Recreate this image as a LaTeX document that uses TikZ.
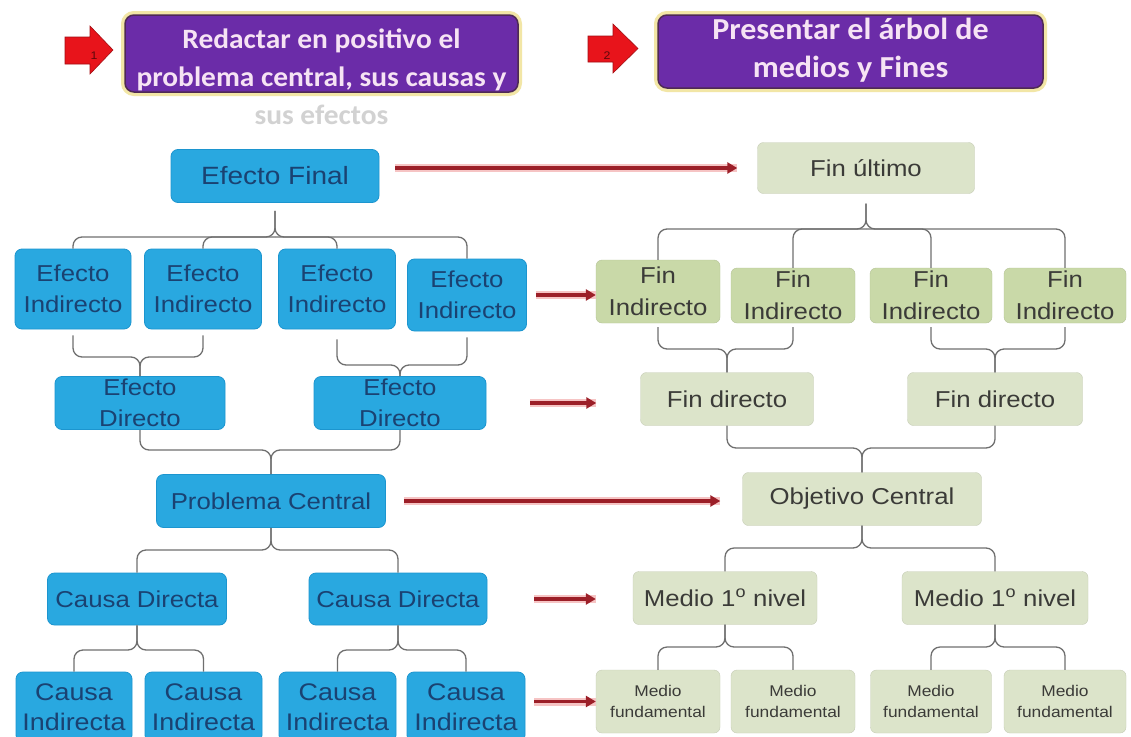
\documentclass[tikz,border=0pt]{standalone}
\usepackage{fontspec}
\setmainfont{Liberation Sans}
\newfontfamily\boxfont[FakeStretch=1.12]{Liberation Sans}
\newfontfamily\headfont[FakeStretch=1.05]{Carlito}
\usetikzlibrary{arrows.meta,calc}

\definecolor{blueFill}{HTML}{29A8E0}
\definecolor{blueLine}{HTML}{1C95CF}
\definecolor{blueText}{HTML}{1A4272}
\definecolor{greenFill}{HTML}{DCE4CA}
\definecolor{greenDark}{HTML}{C9D9A8}
\definecolor{greenText}{HTML}{3B3B38}
\definecolor{titlePurple}{HTML}{6B2CA8}
\definecolor{titleEdge}{HTML}{4E2A55}
\definecolor{titleGlow}{HTML}{F2E6A6}
\definecolor{titleText}{HTML}{F6E3F4}
\definecolor{fadeText}{HTML}{D2D2D2}
\definecolor{linkRed}{HTML}{9C1F28}
\definecolor{linkGlow}{HTML}{F6C4C4}
\definecolor{blockRed}{HTML}{E8141B}
\definecolor{braceGray}{HTML}{6F6F6F}

\tikzset{
  titlebox/.style={fill=titlePurple, draw=titleEdge, line width=1.5pt,
    rounded corners=9pt, inner sep=0pt,
    preaction={draw=titleGlow, line width=8pt}},
  titletext/.style={text=titleText, align=center, inner sep=0pt,
    font=\headfont\bfseries\fontsize{28}{38}\selectfont},
  blockarrow/.style={fill=blockRed, draw=blockRed!70!black, line width=0.6pt,
    line join=miter},
  arrownum/.style={text=blockRed!40!black, inner sep=0pt,
    font=\boxfont\fontsize{11}{11}\selectfont},
  probbox/.style={fill=blueFill, draw=blueLine, line width=0.8pt,
    rounded corners=7pt, text=blueText, align=center, inner sep=0pt,
    font=\boxfont\fontsize{23}{31}\selectfont},
  goalbox/.style={fill=greenFill, draw=greenFill!90!black, line width=0.4pt,
    rounded corners=6pt, text=greenText, align=center, inner sep=0pt,
    font=\boxfont\fontsize{23}{32}\selectfont},
  goaldark/.style={goalbox, fill=greenDark, draw=greenDark!90!black},
  goalsmall/.style={goalbox, font=\boxfont\fontsize{15.5}{21}\selectfont},
  causebox/.style={probbox, minimum height=70pt,
    font=\boxfont\fontsize{24}{30}\selectfont},
  brace/.style={draw=braceGray, line width=1.3pt, rounded corners=9pt},
  link/.style={draw=linkRed, line width=3.2pt,
    -{Triangle[length=10pt,width=11pt]},
    preaction={draw=linkGlow, line width=8pt, -}},
}

\begin{document}
\begin{tikzpicture}[x=1pt, y=-1pt]
\useasboundingbox (0,0) rectangle (1131,736);
\fill[white] (0,0) rectangle (1131,736);

% ---- step headers: block arrows and purple banners
\draw[blockarrow] (65,37) -- (90,37) -- (90,26) -- (113,50) -- (90,74) -- (90,64) -- (65,64) -- cycle;
\node[arrownum] (n1) at (94,56) {1};
\node[titlebox, minimum width=393pt, minimum height=77pt] (t1) at (321.5,53.5) {};
\node[titletext] (t1txt) at (321.5,77)
  {Redactar en positivo el\\problema central, sus causas y\\{\color{fadeText}sus efectos}};

\draw[blockarrow] (588,36) -- (613,36) -- (613,24) -- (638,48.5) -- (613,73) -- (613,62) -- (588,62) -- cycle;
\node[arrownum] (n2) at (607,56) {2};
\node[titlebox, minimum width=385pt, minimum height=73pt] (t2) at (850.5,51.5) {};
\node[titletext, font=\headfont\bfseries\fontsize{30.5}{38}\selectfont] (t2txt) at (850.5,50) {Presentar el árbol de\\medios y Fines};

% ---- problem tree (left)
\node[probbox, minimum width=208pt, minimum height=53pt,
      font=\boxfont\fontsize{25}{30}\selectfont] (ef) at (275,176) {Efecto Final};

\node[probbox, minimum width=116pt, minimum height=80pt] (ei1) at (73,289) {Efecto\\Indirecto};
\node[probbox, minimum width=117pt, minimum height=80pt] (ei2) at (203,289) {Efecto\\Indirecto};
\node[probbox, minimum width=117pt, minimum height=80pt] (ei3) at (337,289) {Efecto\\Indirecto};
\node[probbox, minimum width=119pt, minimum height=72pt] (ei4) at (467,295) {Efecto\\Indirecto};

\node[probbox, minimum width=170pt, minimum height=53pt] (ed1) at (140,403) {Efecto\\Directo};
\node[probbox, minimum width=172pt, minimum height=53pt] (ed2) at (400,403) {Efecto\\Directo};

\node[probbox, minimum width=229pt, minimum height=53pt] (pc) at (271,501) {Problema Central};

\node[probbox, minimum width=179pt, minimum height=52pt] (cd1) at (137,599) {Causa Directa};
\node[probbox, minimum width=178pt, minimum height=52pt] (cd2) at (398,599) {Causa Directa};

\node[causebox, minimum width=116pt] (ci1) at (74,707) {Causa\\Indirecta};
\node[causebox, minimum width=117pt] (ci2) at (203.5,707) {Causa\\Indirecta};
\node[causebox, minimum width=117pt] (ci3) at (337.5,707) {Causa\\Indirecta};
\node[causebox, minimum width=118pt] (ci4) at (466,707) {Causa\\Indirecta};

% ---- objective tree (right)
\node[goalbox, minimum width=217pt, minimum height=51pt] (fu) at (866,168) {Fin último};

\node[goaldark, minimum width=124pt, minimum height=63pt] (fi1) at (658,291.5) {Fin\\Indirecto};
\node[goaldark, minimum width=124pt, minimum height=55pt] (fi2) at (793,295.5) {Fin\\Indirecto};
\node[goaldark, minimum width=122pt, minimum height=55pt] (fi3) at (931,295.5) {Fin\\Indirecto};
\node[goaldark, minimum width=122pt, minimum height=55pt] (fi4) at (1065,295.5) {Fin\\Indirecto};

\node[goalbox, minimum width=173pt, minimum height=53pt] (fd1) at (727,399) {Fin directo};
\node[goalbox, minimum width=175pt, minimum height=53pt] (fd2) at (995,399) {Fin directo};

\node[goalbox, minimum width=239pt, minimum height=53pt] (oc) at (862,499) {Objetivo Central};

\node[goalbox, minimum width=184pt, minimum height=53pt] (m1) at (725,598) {Medio 1\textsuperscript{o} nivel};
\node[goalbox, minimum width=186pt, minimum height=53pt] (m2) at (995,598) {Medio 1\textsuperscript{o} nivel};

\node[goalsmall, minimum width=124pt, minimum height=63pt] (mf1) at (658,701.5) {Medio\\fundamental};
\node[goalsmall, minimum width=124pt, minimum height=63pt] (mf2) at (793,701.5) {Medio\\fundamental};
\node[goalsmall, minimum width=121pt, minimum height=63pt] (mf3) at (931,701.5) {Medio\\fundamental};
\node[goalsmall, minimum width=122pt, minimum height=63pt] (mf4) at (1065,701.5) {Medio\\fundamental};

% ---- brace levels
\coordinate (bEF) at (0,237);
\coordinate (bEDa) at (0,357);
\coordinate (bEDb) at (0,365);
\coordinate (bPC) at (0,450);
\coordinate (bCD) at (0,550);
\coordinate (bCI) at (0,650);
\coordinate (bFU) at (0,229);
\coordinate (bFD) at (0,349);
\coordinate (bOC) at (0,448);
\coordinate (bM) at (0,548);
\coordinate (bMF) at (0,647);

% ---- braces, problem tree
\draw[brace] ($(ef.south)+(0,8)$) -- (ef.south |- bEF) -- (ei1.north |- bEF) -- (ei1.north);
\draw[brace] ($(ef.south)+(0,8)$) -- (ef.south |- bEF) -- (ei4.north |- bEF) -- (ei4.north);
\draw[brace] (ei2.north) -- (ei2.north |- bEF) -- (ef.south |- bEF);
\draw[brace] (ei3.north) -- (ei3.north |- bEF) -- (ef.south |- bEF);

\draw[brace] ($(ei1.south)+(0,6)$) -- (ei1.south |- bEDa) -- (ed1.north |- bEDa) -- (ed1.north);
\draw[brace] ($(ei2.south)+(0,6)$) -- (ei2.south |- bEDa) -- (ed1.north |- bEDa) -- (ed1.north);
\draw[brace] ($(ei3.south)+(0,10)$) -- (ei3.south |- bEDb) -- (ed2.north |- bEDb) -- (ed2.north);
\draw[brace] ($(ei4.south)+(0,6)$) -- (ei4.south |- bEDb) -- (ed2.north |- bEDb) -- (ed2.north);

\draw[brace] (ed1.south) -- (ed1.south |- bPC) -- (pc.north |- bPC) -- (pc.north);
\draw[brace] (ed2.south) -- (ed2.south |- bPC) -- (pc.north |- bPC) -- (pc.north);

\draw[brace] (pc.south) -- (pc.south |- bCD) -- (cd1.north |- bCD) -- (cd1.north);
\draw[brace] (pc.south) -- (pc.south |- bCD) -- (cd2.north |- bCD) -- (cd2.north);

\draw[brace] (cd1.south) -- (cd1.south |- bCI) -- (ci1.north |- bCI) -- (ci1.north);
\draw[brace] (cd1.south) -- (cd1.south |- bCI) -- (ci2.north |- bCI) -- (ci2.north);
\draw[brace] (cd2.south) -- (cd2.south |- bCI) -- (ci3.north |- bCI) -- (ci3.north);
\draw[brace] (cd2.south) -- (cd2.south |- bCI) -- (ci4.north |- bCI) -- (ci4.north);

% ---- braces, objective tree
\draw[brace] ($(fu.south)+(0,10)$) -- (fu.south |- bFU) -- (fi1.north |- bFU) -- (fi1.north);
\draw[brace] ($(fu.south)+(0,10)$) -- (fu.south |- bFU) -- (fi4.north |- bFU) -- (fi4.north);
\draw[brace] (fi2.north) -- (fi2.north |- bFU) -- (fu.south |- bFU);
\draw[brace] (fi3.north) -- (fi3.north |- bFU) -- (fu.south |- bFU);

\draw[brace] ($(fi1.south)+(0,4)$) -- (fi1.south |- bFD) -- (fd1.north |- bFD) -- (fd1.north);
\draw[brace] ($(fi2.south)+(0,4)$) -- (fi2.south |- bFD) -- (fd1.north |- bFD) -- (fd1.north);
\draw[brace] ($(fi3.south)+(0,4)$) -- (fi3.south |- bFD) -- (fd2.north |- bFD) -- (fd2.north);
\draw[brace] ($(fi4.south)+(0,4)$) -- (fi4.south |- bFD) -- (fd2.north |- bFD) -- (fd2.north);

\draw[brace] (fd1.south) -- (fd1.south |- bOC) -- (oc.north |- bOC) -- (oc.north);
\draw[brace] (fd2.south) -- (fd2.south |- bOC) -- (oc.north |- bOC) -- (oc.north);

\draw[brace] (oc.south) -- (oc.south |- bM) -- (m1.north |- bM) -- (m1.north);
\draw[brace] (oc.south) -- (oc.south |- bM) -- (m2.north |- bM) -- (m2.north);

\draw[brace] (m1.south) -- (m1.south |- bMF) -- (mf1.north |- bMF) -- (mf1.north);
\draw[brace] (m1.south) -- (m1.south |- bMF) -- (mf2.north |- bMF) -- (mf2.north);
\draw[brace] (m2.south) -- (m2.south |- bMF) -- (mf3.north |- bMF) -- (mf3.north);
\draw[brace] (m2.south) -- (m2.south |- bMF) -- (mf4.north |- bMF) -- (mf4.north);

% ---- links between the two trees
\draw[link, shorten <=16pt, shorten >=20pt] (ef.east |- fu.west) -- (fu.west);
\draw[link, shorten <=9pt] (ei4.east) -- (ei4.east -| fi1.west);
\draw[link, shorten <=44pt, shorten >=44pt] (ed2.east) -- (ed2.east -| fd1.west);
\draw[link, shorten <=18pt, shorten >=22pt] (pc.east) -- (pc.east -| oc.west);
\draw[link, shorten <=47pt, shorten >=37pt] (cd2.east) -- (cd2.east -| m1.west);
\draw[link, shorten <=9pt] (ci4.east |- mf1.west) -- (mf1.west);
\end{tikzpicture}
\end{document}
